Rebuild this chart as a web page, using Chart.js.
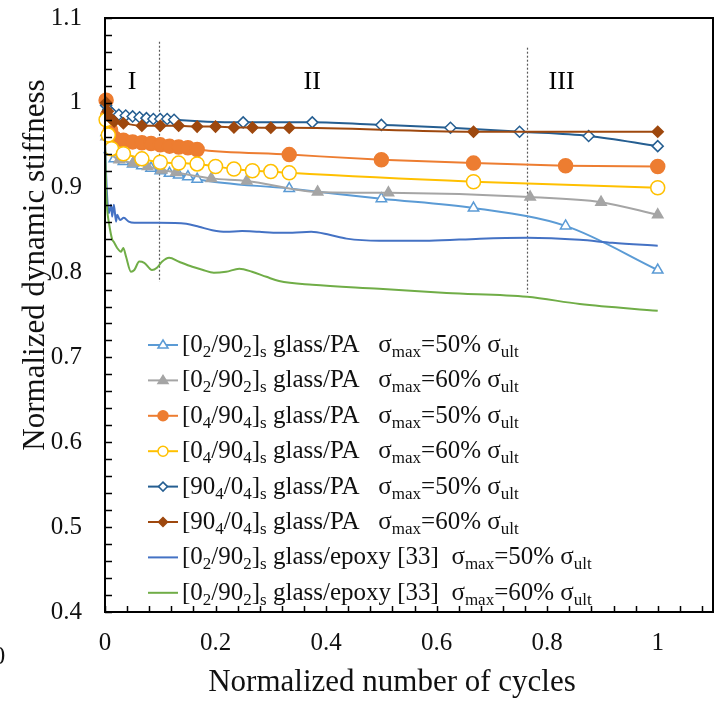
<!DOCTYPE html>
<html>
<head>
<meta charset="utf-8">
<script src="https://cdn.jsdelivr.net/npm/chart.js@4/dist/chart.umd.min.js"></script>
<style>
  html, body { margin: 0; padding: 0; background: #fff; }
  #wrap { width: 725px; height: 702px; position: relative; }
</style>
</head>
<body>
<div id="wrap"><canvas id="c" width="725" height="702"></canvas></div>
<script>
// ---- Normalized number of cycles / normalized dynamic stiffness per specimen ----
const cyc02_50 = [0.002, 0.008, 0.0167, 0.0333, 0.05, 0.0667, 0.0833, 0.1, 0.1167, 0.1333, 0.15, 0.1667, 0.3333, 0.5, 0.6667, 0.8333, 1.0];
const stf02_50 = [0.965, 0.945, 0.934, 0.931, 0.928, 0.926, 0.923, 0.920, 0.917, 0.915, 0.913, 0.910, 0.899, 0.887, 0.876, 0.855, 0.803];

const cyc02_60 = [0.002, 0.01, 0.0256, 0.0513, 0.0769, 0.1026, 0.1282, 0.1923, 0.2564, 0.3846, 0.5128, 0.7692, 0.8974, 1.0];
const stf02_60 = [0.96, 0.942, 0.933, 0.929, 0.925, 0.921, 0.918, 0.911, 0.908, 0.895, 0.894, 0.889, 0.883, 0.868];

const cyc04_50 = [0.002, 0.005, 0.01, 0.0167, 0.0333, 0.05, 0.0667, 0.0833, 0.1, 0.1167, 0.1333, 0.15, 0.1667, 0.3333, 0.5, 0.6667, 0.8333, 1.0];
const stf04_50 = [1.003, 0.985, 0.968, 0.959, 0.956, 0.954, 0.953, 0.952, 0.9505, 0.949, 0.948, 0.947, 0.945, 0.939, 0.933, 0.929, 0.926, 0.925];

const cyc04_60 = [0.002, 0.006, 0.012, 0.0333, 0.0667, 0.1, 0.1333, 0.1667, 0.2, 0.2333, 0.2667, 0.3, 0.3333, 0.6667, 1.0];
const stf04_60 = [0.98, 0.962, 0.946, 0.940, 0.934, 0.930, 0.929, 0.928, 0.925, 0.922, 0.920, 0.919, 0.9175, 0.907, 0.900];

const cyc90_50 = [0.002, 0.006, 0.0125, 0.025, 0.0375, 0.05, 0.0625, 0.075, 0.0875, 0.1, 0.1125, 0.125, 0.25, 0.375, 0.5, 0.625, 0.75, 0.875, 1.0];
const stf90_50 = [0.997, 0.992, 0.988, 0.986, 0.985, 0.984, 0.983, 0.982, 0.981, 0.981, 0.981, 0.980, 0.977, 0.977, 0.974, 0.9706, 0.966, 0.961, 0.949];

const cyc90_60 = [0.002, 0.005, 0.01, 0.0167, 0.0333, 0.0667, 0.1, 0.1333, 0.1667, 0.2, 0.2333, 0.2667, 0.3, 0.3333, 0.6667, 1.0];
const stf90_60 = [1.0, 0.99, 0.982, 0.978, 0.976, 0.973, 0.973, 0.973, 0.972, 0.972, 0.971, 0.971, 0.9706, 0.9706, 0.966, 0.966];

const cycEp_50 = [0, 0.003, 0.007, 0.011, 0.013, 0.016, 0.020, 0.022, 0.027, 0.034, 0.043, 0.053, 0.098, 0.147, 0.170, 0.194, 0.219, 0.248, 0.279, 0.315, 0.339, 0.373, 0.406, 0.437, 0.496, 0.587, 0.678, 0.764, 0.859, 0.918, 1.0];
const stfEp_50 = [0.955, 0.90, 0.870, 0.880, 0.866, 0.880, 0.860, 0.868, 0.862, 0.8645, 0.860, 0.8587, 0.8587, 0.8575, 0.854, 0.850, 0.848, 0.849, 0.848, 0.847, 0.847, 0.848, 0.8445, 0.840, 0.8375, 0.8375, 0.840, 0.841, 0.8386, 0.835, 0.8316];

const cycEp_60 = [0, 0.002, 0.004, 0.007, 0.013, 0.016, 0.022, 0.029, 0.033, 0.038, 0.047, 0.053, 0.062, 0.071, 0.085, 0.094, 0.103, 0.116, 0.134, 0.158, 0.176, 0.197, 0.219, 0.243, 0.266, 0.292, 0.315, 0.375, 0.496, 0.618, 0.764, 0.859, 1.0];
const stfEp_60 = [0.955, 0.90, 0.874, 0.859, 0.839, 0.836, 0.829, 0.8245, 0.829, 0.819, 0.801, 0.803, 0.813, 0.8115, 0.803, 0.8057, 0.8127, 0.8174, 0.8127, 0.8068, 0.8033, 0.7998, 0.801, 0.8045, 0.801, 0.795, 0.790, 0.7856, 0.781, 0.776, 0.7715, 0.763, 0.755];

// Series labels (markup: _{...} = subscript)
const seriesLabels = [
  "[0_{2}/90_{2}]_{s} glass/PA   σ_{max}=50% σ_{ult}",
  "[0_{2}/90_{2}]_{s} glass/PA   σ_{max}=60% σ_{ult}",
  "[0_{4}/90_{4}]_{s} glass/PA   σ_{max}=50% σ_{ult}",
  "[0_{4}/90_{4}]_{s} glass/PA   σ_{max}=60% σ_{ult}",
  "[90_{4}/0_{4}]_{s} glass/PA   σ_{max}=50% σ_{ult}",
  "[90_{4}/0_{4}]_{s} glass/PA   σ_{max}=60% σ_{ult}",
  "[0_{2}/90_{2}]_{s} glass/epoxy [33]  σ_{max}=50% σ_{ult}",
  "[0_{2}/90_{2}]_{s} glass/epoxy [33]  σ_{max}=60% σ_{ult}"
];

// Axis ticks and damage-stage annotations
const xTickValues = [0, 0.2, 0.4, 0.6, 0.8, 1];
const yTickValues = [0.4, 0.5, 0.6, 0.7, 0.8, 0.9, 1, 1.1];
const stageNames = ["I", "II", "III"];
const stageLabelX = [0.049, 0.375, 0.826];
const stageLabelY = 1.024;
const stageBounds = [0.097, 0.763];
const stageBoundTop = [1.072, 1.065];
const stageBoundBottom = [0.789, 0.776];

const SERIF = "'Liberation Serif', 'Times New Roman', serif";

function pts(xs, ys) { return xs.map((x, i) => ({ x: x, y: ys[i] })); }

const styles = [
  { c: '#5B9BD5', ps: 'triangle', r: 6, fill: '#FFFFFF', lr: 5 },
  { c: '#A5A5A5', ps: 'triangle', r: 6, fill: '#A5A5A5', lr: 5 },
  { c: '#ED7D31', ps: 'circle', r: 7, fill: '#ED7D31', lr: 5 },
  { c: '#FFC000', ps: 'circle', r: 7, fill: '#FFFFFF', lr: 5 },
  { c: '#255E91', ps: 'rectRot', r: 5.5, fill: '#FFFFFF', lr: 4.5 },
  { c: '#9E480E', ps: 'rectRot', r: 5.5, fill: '#9E480E', lr: 4.5 },
  { c: '#4472C4', ps: false, r: 0, fill: '#4472C4', lr: 0 },
  { c: '#70AD47', ps: false, r: 0, fill: '#70AD47', lr: 0 }
];

const seriesData = [
  pts(cyc02_50, stf02_50), pts(cyc02_60, stf02_60),
  pts(cyc04_50, stf04_50), pts(cyc04_60, stf04_60),
  pts(cyc90_50, stf90_50), pts(cyc90_60, stf90_60),
  pts(cycEp_50, stfEp_50), pts(cycEp_60, stfEp_60)
];

const datasets = seriesData.map((d, i) => ({
  label: seriesLabels[i],
  data: d,
  borderColor: styles[i].c,
  backgroundColor: styles[i].fill,
  borderWidth: 2,
  pointStyle: styles[i].ps || 'circle',
  pointRadius: styles[i].r,
  pointHoverRadius: styles[i].r,
  pointBackgroundColor: styles[i].fill,
  pointBorderColor: styles[i].c,
  pointBorderWidth: 1.5,
  cubicInterpolationMode: 'monotone',
  clip: false,
  order: seriesData.length - i
}));

function fmtTick(v) { return String(Math.round(v * 10) / 10); }

function drawMarker(ctx, style, x, y, r) {
  ctx.save();
  ctx.fillStyle = style.fill;
  ctx.strokeStyle = style.c;
  ctx.lineWidth = 1.5;
  ctx.beginPath();
  if (style.ps === 'circle') {
    ctx.arc(x, y, r, 0, Math.PI * 2);
  } else if (style.ps === 'triangle') {
    ctx.moveTo(x, y - r);
    ctx.lineTo(x + r, y + r * 0.6);
    ctx.lineTo(x - r, y + r * 0.6);
    ctx.closePath();
  } else if (style.ps === 'rectRot') {
    ctx.moveTo(x, y - r); ctx.lineTo(x + r, y); ctx.lineTo(x, y + r); ctx.lineTo(x - r, y); ctx.closePath();
  }
  ctx.fill();
  ctx.stroke();
  ctx.restore();
}

function parseRich(s) {
  const parts = [];
  const re = /_\{([^}]*)\}/g;
  let last = 0, m;
  while ((m = re.exec(s)) !== null) {
    if (m.index > last) parts.push({ t: s.slice(last, m.index), sub: false });
    parts.push({ t: m[1], sub: true });
    last = re.lastIndex;
  }
  if (last < s.length) parts.push({ t: s.slice(last), sub: false });
  return parts;
}

const decor = {
  id: 'decor',
  beforeDatasetsDraw(chart) {
    const { ctx, scales: { x, y } } = chart;
    ctx.save();
    ctx.strokeStyle = '#5a5a5a';
    ctx.lineWidth = 1.2;
    ctx.setLineDash([2, 2]);
    stageBounds.forEach((b, i) => {
      const px = Math.round(x.getPixelForValue(b)) + 0.5;
      ctx.beginPath();
      ctx.moveTo(px, y.getPixelForValue(stageBoundTop[i]));
      ctx.lineTo(px, y.getPixelForValue(stageBoundBottom[i]));
      ctx.stroke();
    });
    ctx.restore();
  },
  afterDatasetsDraw(chart) {
    const { ctx, chartArea: a, scales: { x, y } } = chart;
    ctx.save();
    // frame
    ctx.strokeStyle = '#000';
    ctx.lineWidth = 2;
    ctx.strokeRect(a.left, a.top, a.right - a.left, a.bottom - a.top);
    // inward tick marks (major + minor)
    ctx.lineWidth = 1.5;
    ctx.beginPath();
    for (let k = 0; k * 0.04 <= 1.1 + 1e-9; k++) {
      const px = Math.round(x.getPixelForValue(k * 0.04)) + 0.5;
      ctx.moveTo(px, a.bottom); ctx.lineTo(px, a.bottom - 6);
    }
    for (let k = 0; 0.4 + k * 0.02 <= 1.1 + 1e-9; k++) {
      const py = Math.round(y.getPixelForValue(0.4 + k * 0.02)) + 0.5;
      ctx.moveTo(a.left, py); ctx.lineTo(a.left + 7, py);
    }
    ctx.stroke();

    // stage labels
    ctx.fillStyle = '#000';
    ctx.font = '26px ' + SERIF;
    ctx.textAlign = 'center';
    ctx.textBaseline = 'middle';
    stageNames.forEach((n, i) => ctx.fillText(n, x.getPixelForValue(stageLabelX[i]), y.getPixelForValue(stageLabelY)));

    // legend with subscripts
    const rowY0 = 345, rowStep = 35.4;
    chart.data.datasets.forEach((ds, i) => {
      const st = styles[i];
      const ly = rowY0 + i * rowStep;
      ctx.strokeStyle = st.c;
      ctx.lineWidth = 2;
      ctx.beginPath();
      ctx.moveTo(148, ly); ctx.lineTo(178, ly);
      ctx.stroke();
      if (st.ps) drawMarker(ctx, st, 163, ly, st.lr);
      let tx = 182;
      const base = ly + 7;
      ctx.fillStyle = '#111';
      ctx.textAlign = 'left';
      ctx.textBaseline = 'alphabetic';
      parseRich(ds.label).forEach(p => {
        ctx.font = (p.sub ? '17px ' : '25px ') + SERIF;
        ctx.fillText(p.t, tx, p.sub ? base + 5 : base);
        tx += ctx.measureText(p.t).width;
      });
    });
    ctx.restore();
  },
  afterDraw(chart) {
    const { ctx } = chart;
    ctx.save();
    ctx.fillStyle = '#111';
    ctx.font = '31px ' + SERIF;
    ctx.textAlign = 'center';
    ctx.textBaseline = 'middle';
    ctx.fillText('Normalized number of cycles', 392, 683);
    ctx.translate(36, 265);
    ctx.rotate(-Math.PI / 2);
    ctx.fillText('Normalized dynamic stiffness', 0, 0);
    ctx.restore();
    ctx.save();
    ctx.fillStyle = '#111';
    ctx.font = '25px ' + SERIF;
    ctx.textAlign = 'center';
    ctx.textBaseline = 'middle';
    ctx.fillText('0', -1, 657);
    ctx.restore();
  }
};

new Chart(document.getElementById('c'), {
  type: 'line',
  data: { datasets: datasets },
  options: {
    responsive: false,
    animation: false,
    layout: { padding: { top: 18, right: 12, left: 0, bottom: 0 } },
    plugins: { legend: { display: false }, tooltip: { enabled: false } },
    scales: {
      x: {
        type: 'linear', min: 0, max: 1.1,
        afterBuildTicks: s => { s.ticks = xTickValues.map(v => ({ value: v })); },
        afterFit: s => { s.height = 90; s.paddingLeft = 0; s.paddingRight = 0; },
        grid: { display: false, drawTicks: false },
        border: { display: false },
        ticks: {
          autoSkip: false, maxRotation: 0, padding: 16, color: '#111',
          font: { family: SERIF, size: 25 },
          callback: v => fmtTick(v)
        }
      },
      y: {
        type: 'linear', min: 0.4, max: 1.1,
        afterBuildTicks: s => { s.ticks = yTickValues.map(v => ({ value: v })); },
        afterFit: s => { s.width = 105; s.paddingTop = 0; s.paddingBottom = 0; },
        grid: { display: false, drawTicks: false },
        border: { display: false },
        ticks: {
          autoSkip: false, padding: 23, color: '#111',
          font: { family: SERIF, size: 25 },
          callback: v => fmtTick(v)
        }
      }
    }
  },
  plugins: [decor]
});
</script>
</body>
</html>
